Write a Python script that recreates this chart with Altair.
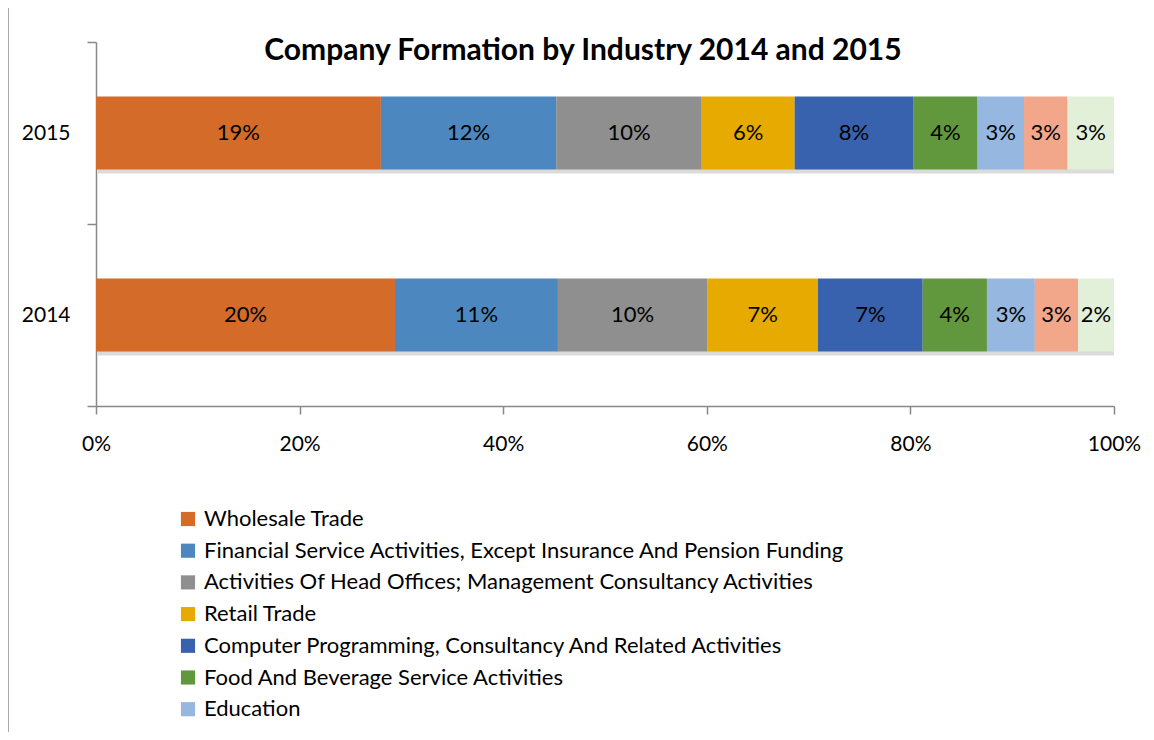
import altair as alt
import pandas as pd

years = ["2015", "2014"]
industries = [
    "Wholesale Trade",
    "Financial Service Activities, Except Insurance And Pension Funding",
    "Activities Of Head Offices; Management Consultancy Activities",
    "Retail Trade",
    "Computer Programming, Consultancy And Related Activities",
    "Food And Beverage Service Activities",
    "Education",
    "Real Estate Activities",
    "Other Business Support Activities",
]
share_2015 = [19.0, 11.7, 9.7, 6.2, 7.9, 4.3, 3.1, 2.9, 3.1]
share_2014 = [20.0, 10.9, 10.0, 7.4, 7.0, 4.3, 3.2, 2.9, 2.4]
colors = ["#D56B28", "#4C88BF", "#8F8F8F", "#E6AA00", "#3862AE",
          "#62983D", "#96B7DF", "#F2A78A", "#E2EFD9"]

rows = []
for yr, vals in zip(years, [share_2015, share_2014]):
    for i, (ind, v) in enumerate(zip(industries, vals)):
        rows.append({"year": yr, "industry": ind, "value": v, "order": i})
df = pd.DataFrame(rows)

FONT = "Lato"
BAR_BAND = 0.4

y_scale = alt.Scale(paddingInner=0, paddingOuter=0)

y_enc = alt.Y("year:N", sort=years, title=None, scale=y_scale,
              axis=alt.Axis(labelFontSize=21, labelFont=FONT, labelColor="#000",
                            domainColor="#888", tickColor="#888", domainWidth=1.5,
                            tickWidth=1.5, tickSize=9, labelPadding=17,
                            tickBand="extent"))

base = alt.Chart(df).transform_stack(
    stack="value", groupby=["year"], as_=["x0", "x1"], offset="normalize",
    sort=[alt.SortField("order", order="ascending")]
).transform_calculate(
    mid="(datum.x0 + datum.x1) / 2",
    label="format(datum.value / 100, '.0%')"
)

shadow = alt.Chart(df).transform_aggregate(
    total="sum(value)", groupby=["year"]
).transform_calculate(one="1", zero="0").mark_bar(
    color="#000", opacity=0.14, yOffset=4, xOffset=2,
    height=alt.RelativeBandSize(BAR_BAND)
).encode(
    x=alt.X("zero:Q"), x2="one:Q", y=alt.Y("year:N", sort=years, scale=y_scale)
)

bars = base.mark_bar(height=alt.RelativeBandSize(BAR_BAND)).encode(
    x=alt.X("x0:Q", title=None,
            scale=alt.Scale(domain=[0, 1], nice=False, zero=True),
            axis=alt.Axis(format=".0%", values=[0, 0.2, 0.4, 0.6, 0.8, 1.0],
                          labelFontSize=21, labelFont=FONT, labelColor="#000",
                          labelFlush=False,
                          domainColor="#888", tickColor="#888", domainWidth=1.5,
                          tickWidth=1.5, tickSize=8, labelPadding=19, grid=False)),
    x2="x1:Q",
    y=y_enc,
    color=alt.Color("industry:N",
                    scale=alt.Scale(domain=industries, range=colors),
                    legend=alt.Legend(
                        title=None, values=industries[:7], orient="none",
                        legendX=81, legendY=466, direction="vertical",
                        symbolType="square", symbolSize=200, symbolStrokeWidth=0,
                        labelFontSize=22, labelFont=FONT, labelColor="#000",
                        labelLimit=1200, rowPadding=9.7, labelOffset=5)),
    order=alt.Order("order:Q"),
)

labels = base.mark_text(fontSize=22, font=FONT, color="#000").encode(
    x="mid:Q", y=alt.Y("year:N", sort=years, scale=y_scale), text="label:N"
)

border = alt.Chart(df).mark_rule(color="#aaa", strokeWidth=1.5).encode(
    x=alt.value(-88), y=alt.value(-42), y2=alt.value(700)
)

chart = alt.layer(shadow, bars, labels, border).properties(
    width=1018, height=364,
    autosize=alt.AutoSizeParams(type="none"),
    padding={"left": 88, "top": 34, "right": 32, "bottom": 326},
    title=alt.TitleParams("Company Formation by Industry 2014 and 2015",
                          fontSize=30, font=FONT, fontWeight="bold", color="#000",
                          anchor="middle", frame="group", offset=0, dy=67, dx=-22),
).configure_view(stroke=None)

chart.save("out.html", embed_options={"renderer": "svg", "actions": False})
